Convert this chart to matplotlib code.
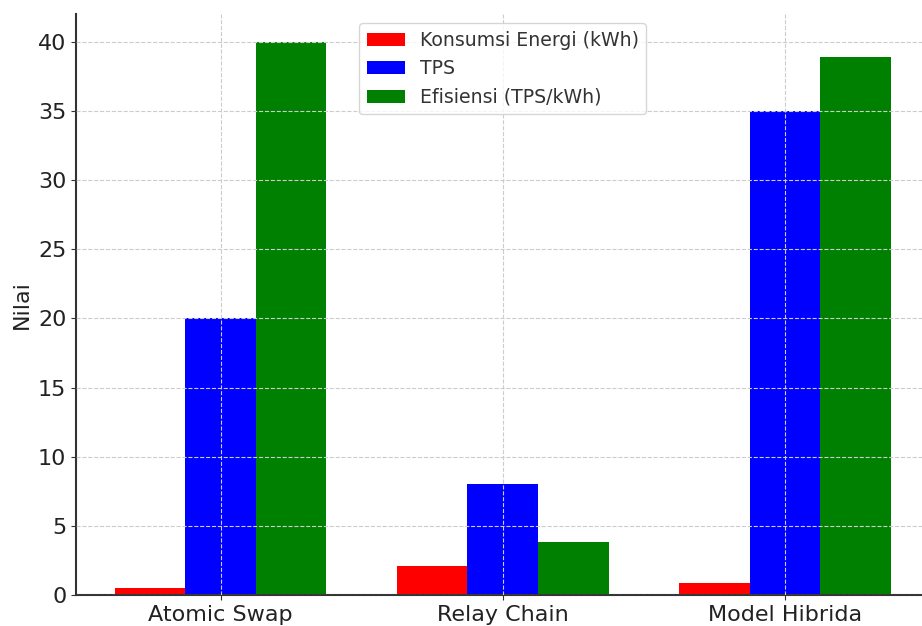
import matplotlib
matplotlib.use('Agg')
import matplotlib.pyplot as plt
import numpy as np

categories = ['Atomic Swap', 'Relay Chain', 'Model Hibrida']
konsumsi = [0.5, 2.1, 0.9]
tps = [20, 8, 35]
efisiensi = [40, 3.8, 38.9]

fig = plt.figure(figsize=(9.22, 6.26), dpi=100)
ax = fig.add_axes([76 / 922, 1 - 595 / 626, (929.5 - 76) / 922, (595 - 14) / 626])

x = np.arange(len(categories))
w = 0.25
ax.bar(x - w, konsumsi, w, color='red', label='Konsumsi Energi (kWh)')
ax.bar(x, tps, w, color='blue', label='TPS')
ax.bar(x + w, efisiensi, w, color='green', label='Efisiensi (TPS/kWh)')

ax.set_xticks(x)
ax.set_xticklabels(categories, fontsize=16, color='#222222')
ax.tick_params(axis='y', labelsize=16, labelcolor='#222222', color='#333333')
ax.tick_params(axis='x', color='#333333')
ax.set_ylabel('Nilai', fontsize=16, color='#222222')
ax.set_ylim(0, 42)
ax.set_yticks(range(0, 41, 5))
ax.grid(True, linestyle='--', color='#cccccc', linewidth=0.8)
ax.set_axisbelow(False)
ax.spines['top'].set_visible(False)
ax.spines['right'].set_visible(False)
ax.spines['left'].set_color('#333333')
ax.spines['bottom'].set_color('#333333')
ax.spines['left'].set_linewidth(1.5)
ax.spines['bottom'].set_linewidth(1.5)

leg = ax.legend(loc='upper center', fontsize=13.6, bbox_to_anchor=(0.5, 1.0))
for t in leg.get_texts():
    t.set_color('#333333')

fig.savefig('out.png', dpi=100)
